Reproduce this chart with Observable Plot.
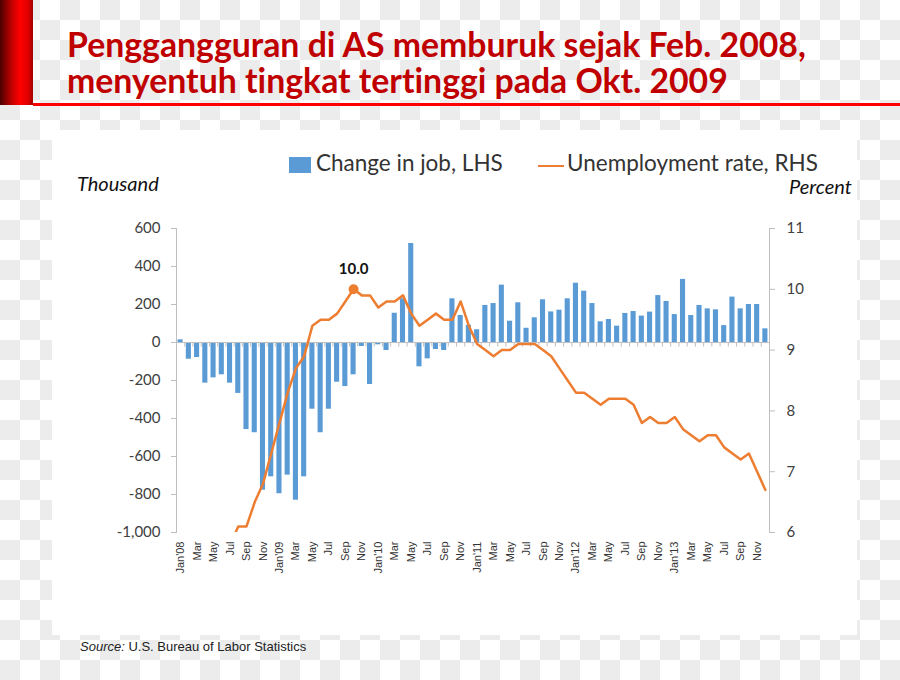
<!DOCTYPE html>
<html><head><meta charset="utf-8">
<script src="https://cdn.jsdelivr.net/npm/d3@7"></script>
<script src="https://cdn.jsdelivr.net/npm/@observablehq/plot@0.6"></script>
<style>
html,body{margin:0;padding:0;}
body{width:900px;height:680px;overflow:hidden;position:relative;background-color:#fff;
 background-image:conic-gradient(#ececec 25%, #fff 0 50%, #ececec 0 75%, #fff 0);
 background-size:40px 40px;font-family:Lato,"Open Sans",sans-serif;}
.abs{position:absolute;}
#redbar{left:0;top:0;width:33px;height:105px;background:linear-gradient(to right,#4a0000,#c00000 35%,#ff0000 60%,#e00000 85%,#a00000);}
#redline{left:33px;top:103px;width:867px;height:3px;background:#ff0000;}
.title{left:67px;font-weight:bold;font-size:33.8px;line-height:34px;color:#c00000;white-space:nowrap;font-variant-ligatures:none;}
#panel{left:52px;top:130px;width:805px;height:505px;background:#fff;}
.leg{font-size:22.5px;color:#333;white-space:nowrap;}
.unit{font-style:italic;font-size:20px;color:#111;}
#source{left:80px;top:639px;font-family:"Liberation Sans",Arial,sans-serif;font-size:13px;color:#222;}
</style></head>
<body>
<div id="redbar" class="abs"></div>
<div id="redline" class="abs"></div>
<div class="abs title" style="top:27px">Penggangguran di AS memburuk sejak Feb. 2008,</div>
<div class="abs title" style="top:63px">menyentuh tingkat tertinggi pada Okt. 2009</div>
<div id="panel" class="abs"></div>
<div class="abs" style="left:289px;top:157px;width:22px;height:16px;background:#5b9bd5"></div>
<div class="abs leg" style="left:316px;top:149px">Change in job, LHS</div>
<div class="abs" style="left:538px;top:165px;width:26px;height:2px;background:#ed7d31"></div>
<div class="abs leg" style="left:567px;top:149px">Unemployment rate, RHS</div>
<div class="abs unit" style="left:77px;top:171px">Thousand</div>
<div class="abs unit" style="left:789px;top:174px">Percent</div>
<div id="source" class="abs"><i>Source:</i> U.S. Bureau of Labor Statistics</div>
<div id="chart"></div>
<script>
// ---- data ----
const years = [2008, 2009, 2010, 2011, 2012, 2013];
const monthNames = ["Jan","Feb","Mar","Apr","May","Jun","Jul","Aug","Sep","Oct","Nov","Dec"];
// Change in jobs (thousand), monthly
const jobs2008 = [14, -88, -79, -214, -186, -170, -214, -268, -458, -475, -777, -707];
const jobs2009 = [-796, -698, -830, -707, -351, -475, -351, -209, -232, -170, -21, -221];
const jobs2010 = [-12, -42, 154, 230, 521, -128, -86, -37, -42, 230, 142, 91];
const jobs2011 = [67, 195, 205, 302, 112, 209, 75, 130, 225, 161, 170, 230];
const jobs2012 = [312, 270, 205, 109, 121, 86, 153, 163, 139, 160, 247, 216];
const jobs2013 = [147, 332, 142, 195, 177, 172, 89, 239, 177, 200, 200, 72];
// Unemployment rate (%), monthly (below 6% is off the chart)
const rate2008 = [null, null, null, null, null, null, 5.8, 6.1, 6.1, 6.5, 6.8, 7.3];
const rate2009 = [7.8, 8.3, 8.7, 8.9, 9.4, 9.5, 9.5, 9.6, 9.8, 10.0, 9.9, 9.9];
const rate2010 = [9.7, 9.8, 9.8, 9.9, 9.6, 9.4, 9.5, 9.6, 9.5, 9.5, 9.8, 9.4];
const rate2011 = [9.1, 9.0, 8.9, 9.0, 9.0, 9.1, 9.1, 9.1, 9.0, 8.9, 8.7, 8.5];
const rate2012 = [8.3, 8.3, 8.2, 8.1, 8.2, 8.2, 8.2, 8.1, 7.8, 7.9, 7.8, 7.8];
const rate2013 = [7.9, 7.7, 7.6, 7.5, 7.6, 7.6, 7.4, 7.3, 7.2, 7.3, 7.0, 6.7];
const leftTicks = [-1000, -800, -600, -400, -200, 0, 200, 400, 600];
const rightTicks = [6, 7, 8, 9, 10, 11];
const xTickLabels = ["Jan'08","Mar","May","Jul","Sep","Nov","Jan'09","Mar","May","Jul","Sep","Nov",
  "Jan'10","Mar","May","Jul","Sep","Nov","Jan'11","Mar","May","Jul","Sep","Nov",
  "Jan'12","Mar","May","Jul","Sep","Nov","Jan'13","Mar","May","Jul","Sep","Nov"];

// ---- build table ----
const jobs = [jobs2008, jobs2009, jobs2010, jobs2011, jobs2012, jobs2013].flat();
const rate = [rate2008, rate2009, rate2010, rate2011, rate2012, rate2013].flat();
const keys = years.flatMap(y => monthNames.map(m => m + " " + y));
const data = keys.map((k, i) => ({key: k, jobs: jobs[i], rate: rate[i]}));
const tickKeys = keys.filter((k, i) => i % 2 === 0);
const labelOf = new Map(tickKeys.map((k, i) => [k, xTickLabels[i]]));
// right axis (6..11 %) mapped onto left axis (-1000..600)
const toLeft = v => 320 * v - 2920;
const fromLeft = d => (d + 2920) / 320;
const peak = [d3.greatest(data.filter(d => d.rate != null), d => d.rate)];

const W = 900, H = 680, mL = 176, mR = 131, mT = 228, mB = 148;
const step = (W - mL - mR) / keys.length;
const grey = "#bfbfbf";
const fmt = d => d3.format(",")(d).replace("\u2212", "-");

const chart = Plot.plot({
  width: W, height: H,
  marginLeft: mL, marginRight: mR, marginTop: mT, marginBottom: mB,
  style: {background: "transparent", fontFamily: "Lato", fontSize: "15px", color: "#404040",
          position: "absolute", left: "0px", top: "0px", overflow: "visible"},
  x: {type: "band", domain: keys, paddingInner: 0.38, paddingOuter: 0.19, round: false, axis: null},
  y: {domain: [-1000, 600], axis: null},
  marks: [
    Plot.barY(data, {x: "key", y: "jobs", fill: "#5b9bd5"}),
    Plot.ruleY([0], {stroke: grey}),
    Plot.ruleX(keys, {x: d => d, y1: 0, y2: -24, dx: -step / 2, stroke: grey}),
    Plot.ruleX([keys[keys.length - 1]], {x: d => d, y1: 0, y2: -24, dx: step / 2, stroke: grey}),
    Plot.frame({anchor: "left", stroke: grey}),
    Plot.frame({anchor: "right", stroke: grey}),
    Plot.axisY(leftTicks, {anchor: "left", tickSize: 5, tickPadding: 11, stroke: grey, fill: "#404040",
      tickFormat: fmt, fontSize: 15, label: null}),
    Plot.axisY(rightTicks.map(toLeft), {anchor: "right", tickSize: 5, tickPadding: 12, stroke: grey, fill: "#404040",
      tickFormat: d => String(Math.round(fromLeft(d))), fontSize: 15, label: null}),
    Plot.axisX(tickKeys, {anchor: "bottom", tickSize: 0, tickPadding: 9, tickRotate: -90,
      tickFormat: k => labelOf.get(k), fontSize: 11, fontFamily: "Liberation Sans", fill: "#333", label: null}),
    Plot.line(data, {x: "key", y: d => d.rate == null ? NaN : toLeft(d.rate), stroke: "#ed7d31",
      strokeWidth: 2.5, clip: true}),
    Plot.dot(peak, {x: "key", y: d => toLeft(d.rate), r: 5, fill: "#ed7d31"}),
    Plot.text(peak, {x: "key", y: d => toLeft(d.rate), text: d => d.rate.toFixed(1), dy: -20,
      fontWeight: "bold", fontSize: 15, fill: "#111"})
  ]
});
document.getElementById("chart").append(chart);
</script>
</body></html>
